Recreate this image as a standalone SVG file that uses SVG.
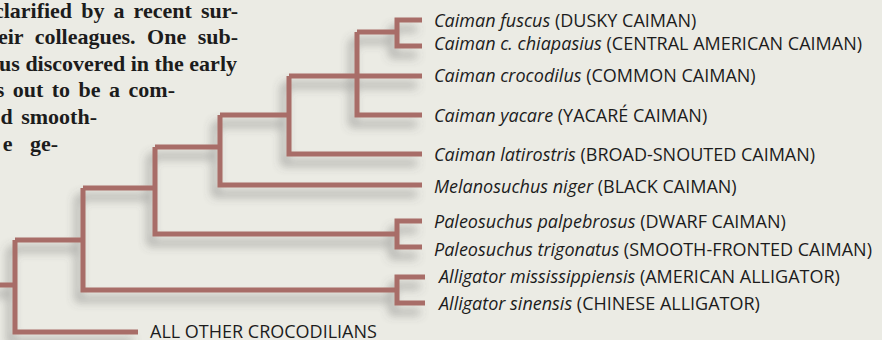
<svg xmlns="http://www.w3.org/2000/svg" width="882" height="340" viewBox="0 0 882 340">
<style>
.body{font-family:"Liberation Serif","Times New Roman",serif;font-weight:bold;font-size:22px;fill:#1c1c1c;text-anchor:end}
.lbl{font-family:"Open Sans","Noto Sans",sans-serif;font-size:18px;fill:#1c1c1c}
.sp{font-style:italic}
.br{fill:none;stroke:#a86d67;stroke-width:5;stroke-linejoin:miter;stroke-linecap:butt}
</style>
<defs>
<filter id="shadow" x="-10%" y="-10%" width="120%" height="130%">
<feGaussianBlur in="SourceAlpha" stdDeviation="5"/>
<feOffset dx="-5" dy="9" result="b"/>
<feFlood flood-color="#555" flood-opacity="0.5"/>
<feComposite in2="b" operator="in" result="s"/>
<feMerge><feMergeNode in="s"/><feMergeNode in="SourceGraphic"/></feMerge>
</filter>
</defs>
<rect width="882" height="340" fill="#ebebe4"/>
<g id="bodytext" class="body">
<text x="238" y="17.5" word-spacing="3.6">clarified by a recent sur-</text>
<text x="238" y="44" word-spacing="6">eir colleagues. One sub-</text>
<text x="237" y="70.5">us discovered in the early</text>
<text x="175" y="97" word-spacing="3">s out to be a com-</text>
<text x="97" y="124" word-spacing="3">d smooth-</text>
<text x="58" y="151" word-spacing="12">e ge-</text>
</g>
<g id="connectors" class="br" filter="url(#shadow)">
<path d="M0 285H15M15 240V332H138"/>
<path d="M15 240H83M83 188V290H397"/>
<path d="M83 188H155M155 147V234H397"/>
<path d="M155 147H220M220 115V185H422"/>
<path d="M220 115H289M289 76V154H422"/>
<path d="M289 76H422M357 32V115H422"/>
<path d="M357 32H397M422 20H397V46H422"/>
<path d="M422 221H397V247H422"/>
<path d="M425 277H397V303H425"/>
</g>
<g id="caiman-fuscus" class="lbl"><text x="434" y="27"><tspan class="sp">Caiman fuscus</tspan> (DUSKY CAIMAN)</text></g>
<g id="caiman-chiapasius" class="lbl"><text x="434" y="50"><tspan class="sp">Caiman c. chiapasius</tspan> (CENTRAL AMERICAN CAIMAN)</text></g>
<g id="caiman-crocodilus" class="lbl"><text x="434" y="81.5"><tspan class="sp">Caiman crocodilus</tspan> (COMMON CAIMAN)</text></g>
<g id="caiman-yacare" class="lbl"><text x="434" y="121.5"><tspan class="sp">Caiman yacare</tspan> (YACARÉ CAIMAN)</text></g>
<g id="caiman-latirostris" class="lbl"><text x="434" y="160.5"><tspan class="sp">Caiman latirostris</tspan> (BROAD-SNOUTED CAIMAN)</text></g>
<g id="melanosuchus-niger" class="lbl"><text x="434" y="192.5"><tspan class="sp">Melanosuchus niger</tspan> (BLACK CAIMAN)</text></g>
<g id="paleosuchus-palpebrosus" class="lbl"><text x="434" y="228"><tspan class="sp">Paleosuchus palpebrosus</tspan> (DWARF CAIMAN)</text></g>
<g id="paleosuchus-trigonatus" class="lbl"><text x="434" y="255.5"><tspan class="sp">Paleosuchus trigonatus</tspan> (SMOOTH-FRONTED CAIMAN)</text></g>
<g id="alligator-mississippiensis" class="lbl"><text x="439" y="283"><tspan class="sp">Alligator mississippiensis</tspan> (AMERICAN ALLIGATOR)</text></g>
<g id="alligator-sinensis" class="lbl"><text x="439" y="310"><tspan class="sp">Alligator sinensis</tspan> (CHINESE ALLIGATOR)</text></g>
<g id="all-other" class="lbl"><text x="150" y="337.5">ALL OTHER CROCODILIANS</text></g>
</svg>
